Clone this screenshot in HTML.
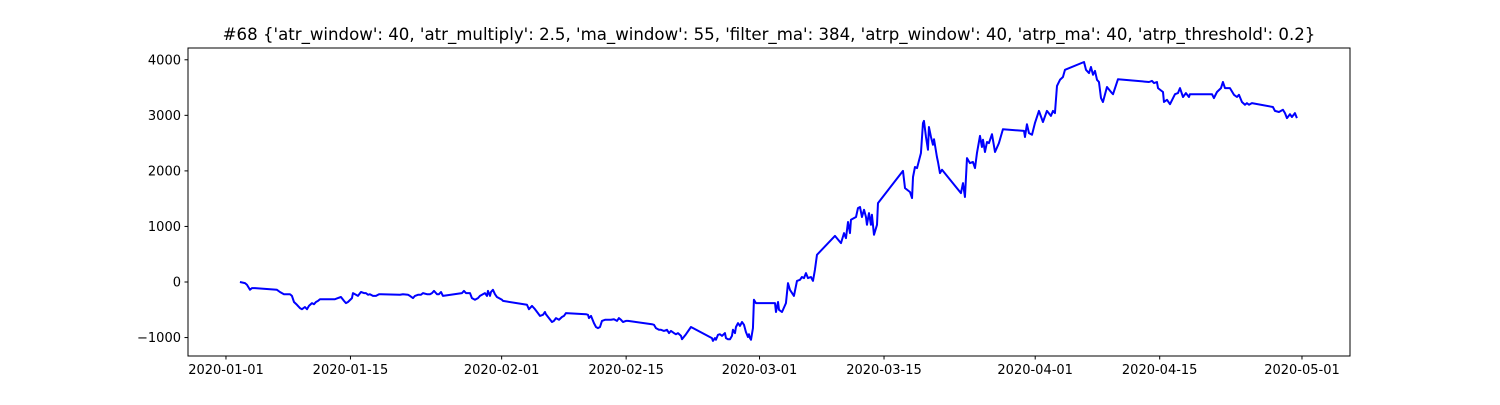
<!DOCTYPE html>
<html><head><meta charset="utf-8"><style>
html,body{margin:0;padding:0;background:#fff;}
svg text{font-family:"DejaVu Sans","Liberation Sans",sans-serif;fill:#000;}
</style></head><body>
<svg id="chart" width="1500" height="400" viewBox="0 0 1500 400" xmlns="http://www.w3.org/2000/svg">
<rect width="1500" height="400" fill="#fff"/>
<text x="769" y="40" font-size="16.6" text-anchor="middle">#68 {'atr_window': 40, 'atr_multiply': 2.5, 'ma_window': 55, 'filter_ma': 384, 'atrp_window': 40, 'atrp_ma': 40, 'atrp_threshold': 0.2}</text>
<g id="ticks"></g>
<path id="line" fill="none" stroke="#0000ff" stroke-width="2" stroke-linejoin="round"/>
<rect x="188" y="48" width="1162" height="308" fill="none" stroke="#000" stroke-width="1"/>
</svg>
<script>
const days=[1.57,2.14,2.36,2.70,2.92,3.26,5.73,6.07,6.52,7.20,7.42,7.65,7.98,8.32,8.55,8.88,9.11,9.33,9.67,9.90,10.12,10.35,10.57,12.26,12.59,12.93,13.27,13.49,13.72,14.17,14.28,14.62,14.84,15.18,15.52,15.74,15.97,16.19,16.53,16.87,17.21,19.57,19.90,20.47,20.69,21.03,21.25,21.59,21.93,22.15,22.60,22.94,23.17,23.39,23.73,23.95,24.18,24.40,26.54,26.76,26.99,27.44,27.66,28.00,28.34,28.56,28.79,29.12,29.35,29.46,29.69,29.80,30.02,30.25,30.47,31.04,31.15,33.85,34.07,34.41,34.75,35.08,35.31,35.65,35.87,35.98,36.32,36.66,36.88,37.11,37.45,37.78,38.01,38.23,40.48,40.71,40.82,41.05,41.38,41.61,41.83,42.06,42.28,42.62,43.29,43.63,43.97,44.19,44.42,44.64,44.98,45.21,47.90,48.13,48.35,48.69,48.92,49.25,49.59,49.82,50.04,50.38,50.60,50.83,51.17,51.28,51.73,52.29,54.65,54.76,54.99,55.10,55.33,55.55,55.78,56.11,56.23,56.45,56.68,56.90,57.01,57.24,57.35,57.58,57.80,58.03,58.25,58.47,58.70,58.81,58.93,59.04,59.26,59.37,59.60,61.74,61.85,62.08,62.19,62.52,62.64,62.97,63.20,63.42,63.87,64.21,64.55,64.77,65.00,65.22,65.45,65.78,66.01,66.23,66.46,68.48,69.16,69.50,69.72,69.95,70.17,70.28,70.85,71.07,71.30,71.52,71.75,71.97,72.08,72.31,72.53,72.64,72.87,73.21,73.32,76.13,76.36,76.92,77.15,77.26,77.48,77.71,78.15,78.38,78.49,78.72,78.94,79.05,79.28,79.50,79.62,79.95,80.07,80.29,80.52,82.65,82.88,83.10,83.33,83.66,84.00,84.23,84.45,84.79,85.01,85.13,85.35,85.58,85.80,86.14,86.48,86.92,87.37,89.74,89.85,90.07,90.30,90.64,90.97,91.42,91.87,92.32,92.77,93.00,93.22,93.45,93.79,94.12,94.35,96.49,96.71,97.05,97.27,97.50,97.72,97.95,98.17,98.40,98.62,99.07,99.63,99.75,100.31,103.80,104.13,104.36,104.69,104.81,105.37,105.48,105.82,106.16,106.72,107.05,107.28,107.62,107.95,108.29,108.40,110.88,111.10,111.44,111.89,112.11,112.34,112.90,113.35,113.69,113.91,114.25,114.59,114.81,115.04,115.37,117.73,117.96,118.41,118.86,119.09,119.31,119.65,119.87,120.21,120.43];
const values=[0,-20,-50,-140,-110,-110,-140,-180,-220,-220,-250,-360,-410,-470,-490,-450,-490,-430,-380,-400,-360,-340,-310,-310,-290,-270,-340,-380,-360,-290,-200,-230,-250,-180,-200,-200,-230,-220,-250,-250,-220,-230,-220,-230,-250,-290,-250,-230,-230,-200,-220,-220,-200,-160,-220,-220,-180,-250,-200,-160,-200,-200,-290,-320,-290,-250,-230,-200,-250,-160,-250,-180,-140,-220,-270,-320,-340,-410,-490,-430,-490,-560,-610,-590,-540,-580,-650,-720,-700,-650,-680,-630,-610,-560,-580,-590,-650,-610,-740,-810,-830,-810,-700,-680,-680,-670,-700,-650,-680,-720,-700,-700,-760,-770,-830,-860,-860,-880,-860,-920,-880,-920,-940,-920,-970,-1030,-940,-810,-1010,-1060,-1010,-1040,-950,-940,-970,-920,-1010,-1030,-1030,-970,-860,-920,-810,-740,-790,-720,-770,-900,-990,-940,-1010,-1040,-830,-320,-380,-380,-540,-360,-500,-540,-500,-380,-20,-140,-250,20,40,90,70,160,70,90,20,220,490,830,700,880,790,1080,880,1120,1170,1330,1350,1170,1300,1170,1030,1240,1030,1210,850,1030,1420,2000,1690,1620,1510,1890,2070,2050,2320,2860,2900,2610,2380,2790,2610,2470,2570,2250,2160,1960,2020,1600,1780,1530,2230,2140,2160,2050,2320,2630,2430,2560,2340,2520,2500,2660,2340,2500,2750,2720,2610,2840,2680,2650,2860,3080,2880,3080,2990,3080,3040,3530,3640,3690,3820,3960,3820,3760,3870,3730,3800,3640,3600,3310,3240,3510,3400,3380,3650,3600,3620,3580,3600,3490,3420,3240,3280,3200,3380,3400,3490,3330,3400,3330,3380,3380,3310,3420,3490,3600,3490,3490,3370,3330,3370,3240,3190,3220,3190,3220,3150,3080,3060,3100,3040,2950,3020,2970,3040,2950];
const yTicks=[-1000,0,1000,2000,3000,4000];
const xTickDays=[0,14,31,45,60,74,91,105,121];
const xTickLabels=["2020-01-01","2020-01-15","2020-02-01","2020-02-15","2020-03-01","2020-03-15","2020-04-01","2020-04-15","2020-05-01"];

const X0=188,X1=1350,Y0=48,Y1=356;
const dMin=-4.27,dMax=126.4,vMin=-1332,vMax=4212;
function xs(d){return X0+(d-dMin)/(dMax-dMin)*(X1-X0);}
function ys(v){return Y1-(v-vMin)/(vMax-vMin)*(Y1-Y0);}
const NS="http://www.w3.org/2000/svg";
const g=document.getElementById('ticks');
yTicks.forEach(v=>{
  const y=ys(v);
  const l=document.createElementNS(NS,'line');
  l.setAttribute('x1',X0-3.5);l.setAttribute('x2',X0);l.setAttribute('y1',y);l.setAttribute('y2',y);l.setAttribute('stroke','#000');
  
  
  g.appendChild(l);
  const t=document.createElementNS(NS,'text');
  t.setAttribute('x',X0-7);t.setAttribute('y',y+4.5);t.setAttribute('font-size','13');t.setAttribute('text-anchor','end');
  t.textContent=v<0?'\u2212'+Math.abs(v):String(v);
  
  
  g.appendChild(t);
});
xTickDays.forEach((d,i)=>{
  const x=xs(d);
  const l=document.createElementNS(NS,'line');
  l.setAttribute('x1',x);l.setAttribute('x2',x);l.setAttribute('y1',Y1);l.setAttribute('y2',Y1+3.5);l.setAttribute('stroke','#000');
  
  
  g.appendChild(l);
  const t=document.createElementNS(NS,'text');
  t.setAttribute('x',x);t.setAttribute('y',Y1+18);t.setAttribute('font-size','13');t.setAttribute('text-anchor','middle');
  t.textContent=xTickLabels[i];
  
  
  g.appendChild(t);
});
document.getElementById('line').setAttribute('d',days.map((d,i)=>(i?'L':'M')+xs(d).toFixed(2)+' '+ys(values[i]).toFixed(2)).join(' '));
</script>
</body></html>
